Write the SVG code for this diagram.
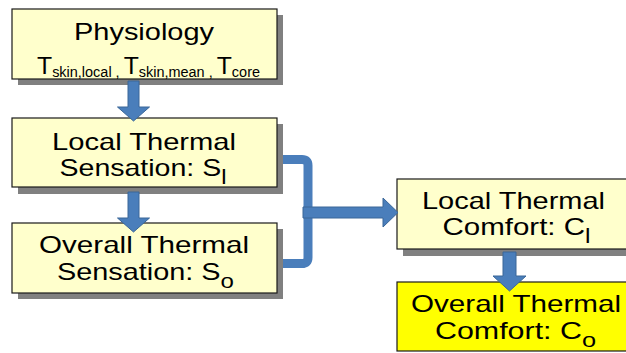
<svg xmlns="http://www.w3.org/2000/svg" width="626" height="353" viewBox="0 0 626 353">
<defs>
<style>
.box{fill:#FFFFCC;stroke:#1a1a1a;stroke-width:1.2}
.hot{fill:#FFFF00;stroke:#1a1a1a;stroke-width:1.2}
.shadow{fill:#808080}
.t{font-family:"Liberation Sans",Arial,sans-serif;font-size:24px;fill:#000}
.sub{font-size:20px}
.arrow{fill:#4A7EBB;stroke:#3A6798;stroke-width:1}
.bracket{fill:none;stroke:#4A7EBB;stroke-width:9}
</style>
</defs>
<rect width="626" height="353" fill="#FFFFFF"/>
<g id="physiology">
<rect class="shadow" x="18" y="15" width="265" height="70"/>
<rect class="box" x="12" y="9" width="265" height="70"/>
<text class="t" x="74" y="39.5" textLength="140" lengthAdjust="spacingAndGlyphs">Physiology</text>
<text class="t" x="37" y="74" textLength="223" lengthAdjust="spacingAndGlyphs">T<tspan dy="3" font-size="14">skin,local , </tspan><tspan dy="-3">T</tspan><tspan dy="3" font-size="14">skin,mean , </tspan><tspan dy="-3">T</tspan><tspan dy="3" font-size="14">core</tspan></text>
</g>
<g id="local-sensation">
<rect class="shadow" x="18" y="124" width="265" height="70"/>
<rect class="box" x="12" y="118" width="265" height="69"/>
<text class="t" x="52" y="149.5" textLength="184" lengthAdjust="spacingAndGlyphs">Local Thermal</text>
<text class="t" x="59.5" y="175.5" textLength="167" lengthAdjust="spacingAndGlyphs">Sensation: S<tspan class="sub" dy="8">l</tspan></text>
</g>
<g id="overall-sensation">
<rect class="shadow" x="18" y="229" width="265" height="70"/>
<rect class="box" x="12" y="223" width="265" height="70"/>
<text class="t" x="39" y="253" textLength="210" lengthAdjust="spacingAndGlyphs">Overall Thermal</text>
<text class="t" x="57" y="279.5" textLength="177" lengthAdjust="spacingAndGlyphs">Sensation: S<tspan class="sub" dy="8">o</tspan></text>
</g>
<g id="local-comfort">
<rect class="shadow" x="403" y="185" width="240" height="71"/>
<rect class="box" x="397" y="179" width="240" height="70"/>
<text class="t" x="422" y="208.7" textLength="183" lengthAdjust="spacingAndGlyphs">Local Thermal</text>
<text class="t" x="442.5" y="234.7" textLength="148" lengthAdjust="spacingAndGlyphs">Comfort: C<tspan class="sub" dy="8">l</tspan></text>
</g>
<g id="overall-comfort">
<rect class="hot" x="397" y="282" width="240" height="69"/>
<text class="t" x="411" y="312.3" textLength="210" lengthAdjust="spacingAndGlyphs">Overall Thermal</text>
<text class="t" x="435" y="338.5" textLength="161" lengthAdjust="spacingAndGlyphs">Comfort: C<tspan class="sub" dy="8">o</tspan></text>
</g>
<g id="connectors">
<polygon class="arrow" points="128,81 139,81 139,107 149.5,107 133.5,121 117.5,107 128,107"/>
<polygon class="arrow" points="128,192 139,192 139,218 149.5,218 133.5,232 117.5,218 128,218"/>
<polygon class="arrow" points="503,252 516,252 516,276 526,276 509.5,291 493,276 503,276"/>
<path class="bracket" d="M283,159.5 H302 Q308,159.5 308,165.5 V257.5 Q308,263.5 302,263.5 H283"/>
<polygon class="arrow" points="303,207 383,207 383,198 398,212.5 383,227 383,218 303,218"/>
</g>
</svg>
